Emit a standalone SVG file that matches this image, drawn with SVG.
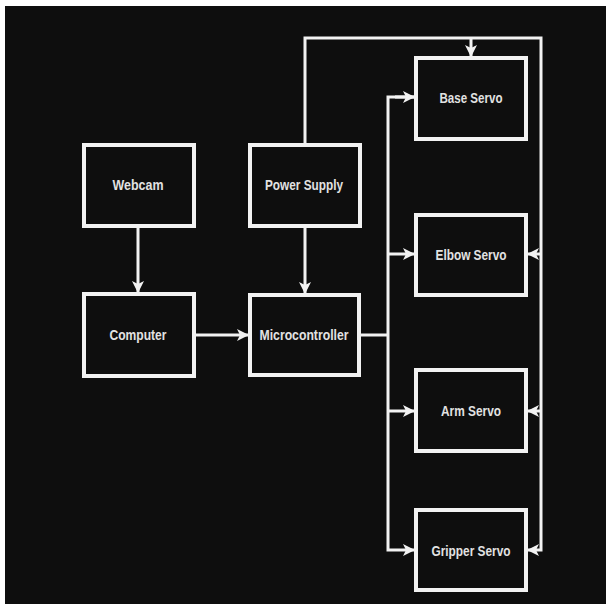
<svg xmlns="http://www.w3.org/2000/svg" width="606" height="604" viewBox="0 0 606 604">
<style>
.box{fill:#0e0e0e;stroke:#f2f2f2;stroke-width:4}
.lbl{font-family:"Liberation Sans Narrow","Liberation Sans",sans-serif;font-weight:bold;font-size:15px;fill:#e2e2e2;text-anchor:middle}
.wire{fill:none;stroke:#f2f2f2;stroke-width:3}
</style>
<defs>
<marker id="ah" markerUnits="userSpaceOnUse" markerWidth="12" markerHeight="12" viewBox="0 0 12 12" refX="11" refY="6" orient="auto">
<path d="M0,0 L12,6 L0,12 L3,6 z" fill="#f2f2f2"/>
</marker>
</defs>
<rect x="0" y="0" width="606" height="604" fill="#ffffff"/>
<rect x="5" y="6" width="601" height="598" fill="#0e0e0e"/>
<g id="connectors">
<line class="wire" x1="138" y1="228" x2="138" y2="292" marker-end="url(#ah)"/>
<line class="wire" x1="305" y1="228" x2="305" y2="293" marker-end="url(#ah)"/>
<line class="wire" x1="196" y1="335" x2="248" y2="335" marker-end="url(#ah)"/>
<polyline class="wire" points="305,143 305,38 541,38 541,550 528,550" marker-end="url(#ah)"/>
<line class="wire" x1="471" y1="38" x2="471" y2="56" marker-end="url(#ah)"/>
<line class="wire" x1="541" y1="254" x2="528" y2="254" marker-end="url(#ah)"/>
<line class="wire" x1="541" y1="411" x2="528" y2="411" marker-end="url(#ah)"/>
<polyline class="wire" points="361,335 388,335"/>
<polyline class="wire" points="414,97 388,97 388,550 414,550" marker-end="url(#ah)"/>
<line class="wire" x1="388" y1="254" x2="414" y2="254" marker-end="url(#ah)"/>
<line class="wire" x1="388" y1="411" x2="414" y2="411" marker-end="url(#ah)"/>
<line class="wire" x1="395" y1="97" x2="414" y2="97" marker-end="url(#ah)"/>
</g>
<g id="webcam"><rect class="box" x="84" y="145" width="110" height="81"/><text class="lbl" x="138" y="190" textLength="51" lengthAdjust="spacingAndGlyphs">Webcam</text></g>
<g id="power-supply"><rect class="box" x="250" y="145" width="110" height="81"/><text class="lbl" x="304" y="190" textLength="78" lengthAdjust="spacingAndGlyphs">Power Supply</text></g>
<g id="computer"><rect class="box" x="84" y="294" width="110" height="82"/><text class="lbl" x="138" y="340" textLength="57" lengthAdjust="spacingAndGlyphs">Computer</text></g>
<g id="microcontroller"><rect class="box" x="250" y="295" width="109" height="80"/><text class="lbl" x="304" y="340" textLength="89" lengthAdjust="spacingAndGlyphs">Microcontroller</text></g>
<g id="base-servo"><rect class="box" x="416" y="58" width="110" height="81"/><text class="lbl" x="471" y="103" textLength="63" lengthAdjust="spacingAndGlyphs">Base Servo</text></g>
<g id="elbow-servo"><rect class="box" x="416" y="215" width="110" height="80"/><text class="lbl" x="471" y="260" textLength="71" lengthAdjust="spacingAndGlyphs">Elbow Servo</text></g>
<g id="arm-servo"><rect class="box" x="416" y="370" width="110" height="81"/><text class="lbl" x="471" y="416" textLength="60" lengthAdjust="spacingAndGlyphs">Arm Servo</text></g>
<g id="gripper-servo"><rect class="box" x="416" y="510" width="110" height="80"/><text class="lbl" x="471" y="556" textLength="79" lengthAdjust="spacingAndGlyphs">Gripper Servo</text></g>
</svg>
